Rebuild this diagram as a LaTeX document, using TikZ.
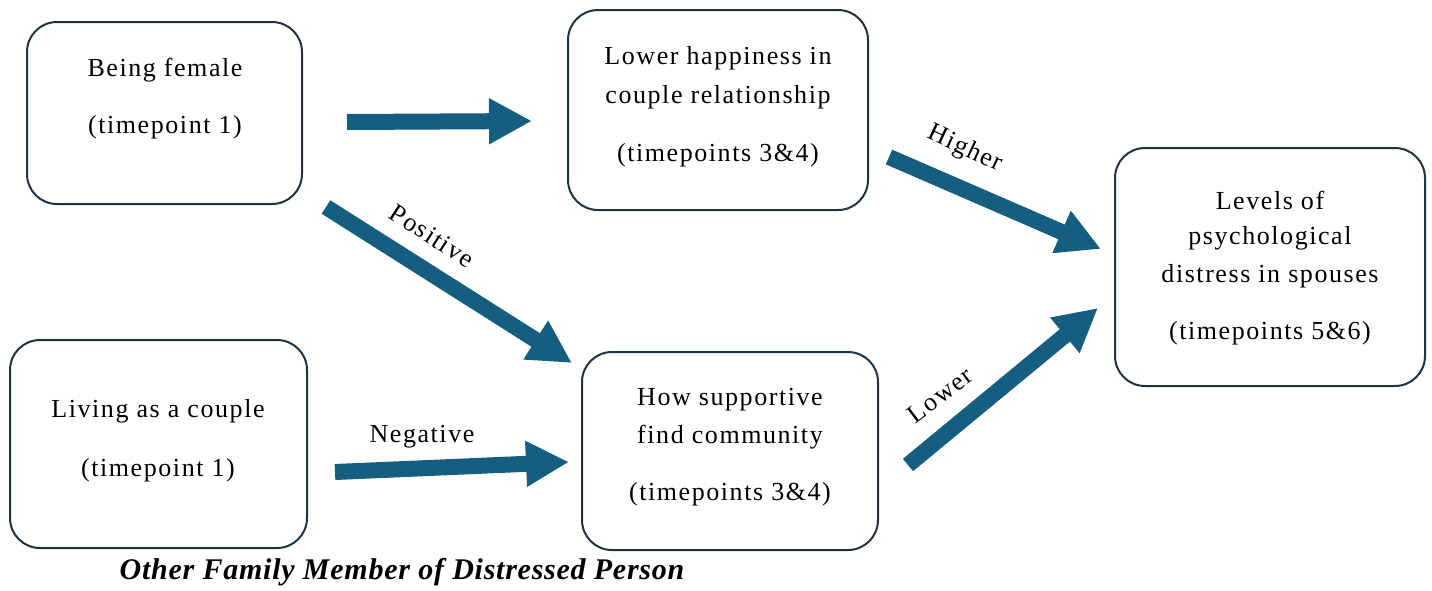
\documentclass[tikz,border=0pt]{standalone}
\usepackage{fontspec}
\setmainfont{Liberation Serif}
\newfontfamily\boxfont{Liberation Serif}[LetterSpace=6]
\newfontfamily\capfont{Liberation Serif}[LetterSpace=2.5]
\usetikzlibrary{arrows.meta}
\definecolor{arrowteal}{RGB}{22,94,128}
\definecolor{boxline}{RGB}{30,52,68}
\begin{document}
\begin{tikzpicture}[x=1pt,y=-1pt,
  box/.style={draw=boxline,line width=2pt,rounded corners=30pt,inner sep=0pt},
  txt/.style={font=\boxfont\fontsize{26}{30}\selectfont,inner sep=0pt,anchor=center},
  lbl/.style={font=\boxfont\fontsize{26}{30}\selectfont,inner sep=0pt},
  bigarrow/.style={draw=arrowteal,line width=16pt,-{Triangle[length=43pt,width=43pt]}},
  caption/.style={font=\capfont\fontsize{30}{34}\selectfont\bfseries\itshape,inner sep=0pt}]
\useasboundingbox (0,0) rectangle (1432,590);
% boxes
\node[box,minimum width=275pt,minimum height=182pt] (A) at (164.5,113) {};
\node[box,minimum width=300pt,minimum height=200pt] (B) at (718,110) {};
\node[box,minimum width=310pt,minimum height=238pt] (C) at (1270,267) {};
\node[box,minimum width=297pt,minimum height=208pt] (D) at (158.5,444) {};
\node[box,minimum width=296pt,minimum height=198pt] (E) at (730,451) {};
% box texts
\node[txt] (a1) at (165,70) {Being female};
\node[txt] (a2) at (165,127) {(timepoint 1)};
\node[txt] (b1) at (718,58) {Lower happiness in};
\node[txt] (b2) at (718,97) {couple relationship};
\node[txt] (b3) at (718,155) {(timepoints 3\&4)};
\node[txt] (c1) at (1270,200) {Levels of};
\node[txt] (c2) at (1270,238) {psychological};
\node[txt] (c3) at (1270,276) {distress in spouses};
\node[txt] (c4) at (1270,333) {(timepoints 5\&6)};
\node[txt] (d1) at (158,411) {Living as a couple};
\node[txt] (d2) at (158,470) {(timepoint 1)};
\node[txt] (e1) at (730,400) {How supportive};
\node[txt] (e2) at (730,437) {find community};
\node[txt] (e3) at (730,494) {(timepoints 3\&4)};
% arrow endpoints
\coordinate (s1) at (347,122);
\coordinate (t1) at (532,121);
\coordinate (s2) at (326,207);
\coordinate (t2) at (572,363);
\coordinate (s3) at (889,157);
\coordinate (t3) at (1101,249);
\coordinate (s4) at (908,465);
\coordinate (t4) at (1098,308);
\coordinate (s5) at (335,472);
\coordinate (t5) at (569,462);
\draw[bigarrow] (s1) -- (t1);
\draw[bigarrow] (s2) -- (t2);
\draw[bigarrow] (s3) -- (t3);
\draw[bigarrow] (s4) -- (t4);
\draw[bigarrow] (s5) -- (t5);
% labels
\node[lbl,rotate=-33] (lp) at (432,236) {Positive};
\node[lbl,rotate=-25] (lh) at (965,149) {Higher};
\node[lbl,rotate=37] (ll) at (940,395) {Lower};
\node[lbl] (ln) at (422,437) {Negative};
\node[caption] (cap) at (402,572) {Other Family Member of Distressed Person};
\end{tikzpicture}
\end{document}
